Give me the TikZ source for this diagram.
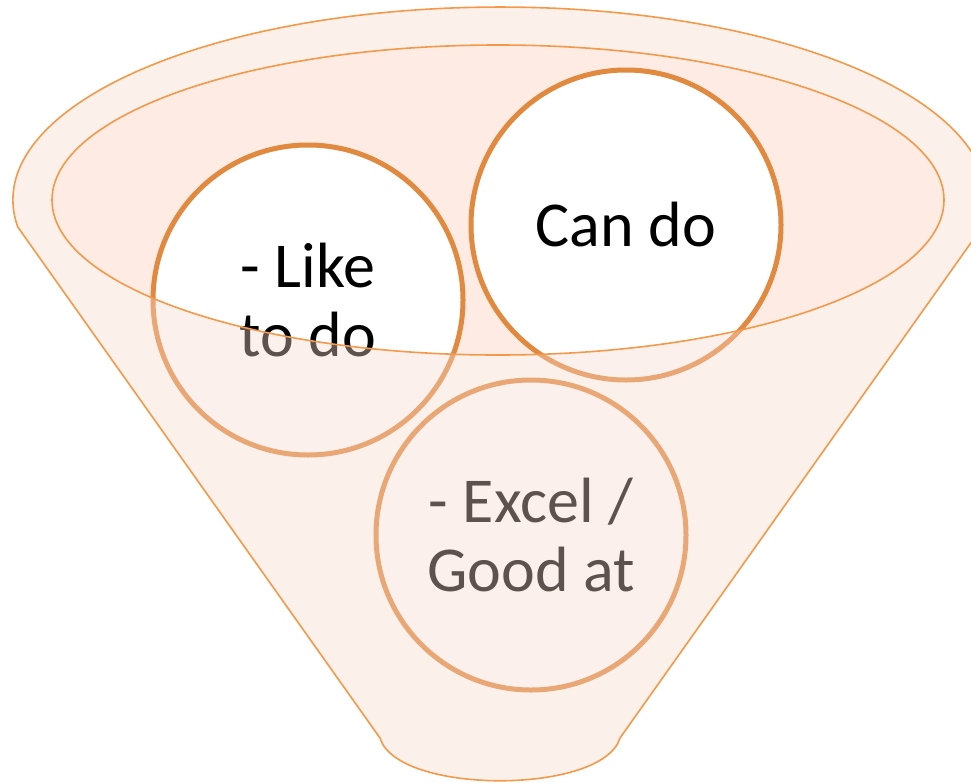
\documentclass[tikz,border=0pt]{standalone}
\usepackage{fontspec}
\setmainfont{Carlito}
\definecolor{funnelline}{HTML}{F4994A}
\definecolor{funnelfill}{HTML}{F7D8CB}
\definecolor{mouthfill}{HTML}{FDEBE4}
\definecolor{ringline}{HTML}{E0893F}

\begin{document}
\begin{tikzpicture}[x=1pt,y=-1pt,
    ring/.style={circle,draw=ringline,line width=5pt,fill=white,
      minimum size=310pt,inner sep=0pt,align=center,
      font=\fontsize{64}{69}\selectfont},
    rim/.style={draw=funnelline,line width=1.6pt}]
    \useasboundingbox (0,0) rectangle (971,782);
    \clip (0,0) rectangle (971,782);

    % corners of the funnel
    \coordinate (TL) at (17.7,226.9);
    \coordinate (BL) at (380,738);
    \coordinate (BR) at (620,738);

    % mouth
    \fill[mouthfill] (498,200) ellipse[x radius=446,y radius=155];

    % rings
    \node[ring] (like) at (308,300) {- Like\\to do};
    \node[ring] (can) at (626,225) {Can do};
    \node[ring] (excel) at (531,535) {- Excel /\\Good at};

    % front of the funnel, see-through
    \fill[funnelfill,fill opacity=.38,even odd rule]
        (TL) arc[start angle=172,end angle=368,x radius=487,y radius=193]
        -- (BR) .. controls (603,795) and (397,795) .. (BL) -- cycle
        (498,200) ellipse[x radius=446,y radius=155];

    % outlines
    \draw[rim] (TL) arc[start angle=172,end angle=368,x radius=487,y radius=193]
        -- (BR) .. controls (603,795) and (397,795) .. (BL) -- cycle;
    \draw[rim] (498,200) ellipse[x radius=446,y radius=155];
\end{tikzpicture}
\end{document}
